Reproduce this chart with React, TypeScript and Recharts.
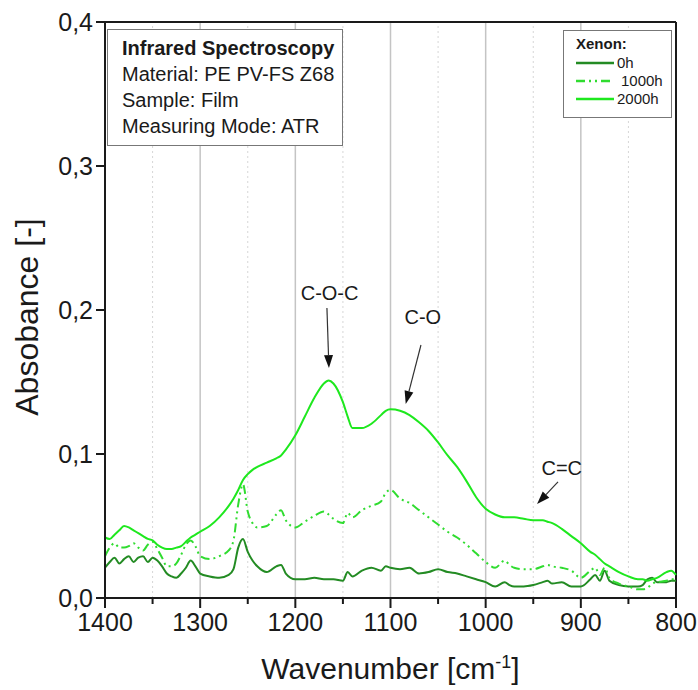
import React from "react";
import {
  LineChart,
  Line,
  XAxis,
  YAxis,
  ReferenceLine,
  ReferenceDot,
} from "recharts";

// wavenumber grid [cm-1]
const wavenumbers = [
  1400, 1395, 1390, 1385, 1380, 1375, 1370, 1365, 1360, 1355, 1350, 1345, 1340,
  1335, 1330, 1325, 1320, 1315, 1310, 1305, 1300, 1290, 1280, 1270, 1265, 1260,
  1255, 1250, 1245, 1240, 1230, 1220, 1215, 1210, 1200, 1190, 1180, 1170, 1165,
  1160, 1150, 1145, 1140, 1130, 1120, 1110, 1105, 1100, 1090, 1080, 1070, 1060,
  1050, 1040, 1030, 1020, 1010, 1000, 990, 980, 975, 970, 960, 950, 940, 935,
  930, 920, 910, 900, 890, 885, 880, 875, 870, 860, 850, 840, 835, 830, 825, 820,
  810, 805, 800,
];

const xenon0h = [
  0.021, 0.025, 0.028, 0.024, 0.027, 0.029, 0.025, 0.028, 0.029, 0.025, 0.028,
  0.026, 0.022, 0.017, 0.015, 0.014, 0.017, 0.021, 0.026, 0.022, 0.017, 0.015,
  0.014, 0.016, 0.02, 0.035, 0.041, 0.032, 0.026, 0.022, 0.018, 0.022, 0.023,
  0.017, 0.013, 0.013, 0.014, 0.013, 0.013, 0.013, 0.012, 0.018, 0.015, 0.019,
  0.021, 0.019, 0.022, 0.021, 0.02, 0.021, 0.017, 0.018, 0.02, 0.018, 0.017,
  0.015, 0.013, 0.011, 0.008, 0.011, 0.009, 0.008, 0.008, 0.009, 0.011, 0.012,
  0.01, 0.011, 0.008, 0.008, 0.013, 0.016, 0.012, 0.019, 0.012, 0.009, 0.008,
  0.008, 0.009, 0.013, 0.014, 0.011, 0.011, 0.012, 0.012,
];

const xenon1000h = [
  0.029, 0.035, 0.038, 0.035, 0.035, 0.036, 0.038, 0.035, 0.033, 0.037, 0.039,
  0.034, 0.028, 0.022, 0.022, 0.024, 0.03, 0.037, 0.04, 0.036, 0.029, 0.027,
  0.029, 0.033, 0.04, 0.065, 0.079, 0.06, 0.052, 0.049, 0.05, 0.058, 0.061,
  0.054, 0.049, 0.053, 0.057, 0.06, 0.058, 0.055, 0.052, 0.059, 0.056, 0.061,
  0.064, 0.067, 0.073, 0.075, 0.069, 0.066, 0.061, 0.056, 0.051, 0.046, 0.042,
  0.037, 0.031, 0.025, 0.021, 0.026, 0.023, 0.021, 0.02, 0.02, 0.022, 0.023,
  0.022, 0.021, 0.019, 0.014, 0.019, 0.021, 0.016, 0.021, 0.014, 0.01, 0.008,
  0.006, 0.006, 0.007, 0.01, 0.011, 0.012, 0.013, 0.013,
];

const xenon2000h = [
  0.042, 0.041, 0.044, 0.047, 0.05, 0.049, 0.047, 0.045, 0.043, 0.041, 0.04,
  0.037, 0.035, 0.034, 0.034, 0.035, 0.036, 0.039, 0.042, 0.044, 0.046, 0.05,
  0.056, 0.064, 0.069, 0.075, 0.082, 0.086, 0.089, 0.091, 0.094, 0.097, 0.099,
  0.103, 0.113, 0.126, 0.139, 0.149, 0.151, 0.149, 0.136, 0.126, 0.118, 0.118,
  0.121, 0.127, 0.13, 0.131, 0.13, 0.127, 0.122, 0.116, 0.108, 0.099, 0.091,
  0.081, 0.07, 0.062, 0.058, 0.056, 0.056, 0.056, 0.055, 0.054, 0.054, 0.053,
  0.052, 0.048, 0.043, 0.038, 0.032, 0.03, 0.027, 0.024, 0.022, 0.018, 0.015,
  0.013, 0.013, 0.012, 0.013, 0.014, 0.018, 0.019, 0.016,
];

const xMajorTicks = [1400, 1300, 1200, 1100, 1000, 900, 800];
const xAllTicks = [1400, 1350, 1300, 1250, 1200, 1150, 1100, 1050, 1000, 950, 900, 850, 800];
const xMajorGrid = [1300, 1200, 1100, 1000, 900];
const xMinorGrid = [1350, 1250, 1150, 1050, 950, 850];
const yTicks = [0, 0.1, 0.2, 0.3, 0.4];

const seriesNames = ["0h", "1000h", "2000h"];
const seriesColors = ["#238b23", "#30dc30", "#1ee81e"];
const seriesDash = ["", "9 4 2 4 2 4", ""];

// peak annotations: label anchor and arrow from -> to (wavenumber, absorbance)
const annotations = [
  { text: "C-O-C", at: [1164, 0.207], from: [1166.8, 0.2014], to: [1164.7, 0.1597] },
  { text: "C-O", at: [1066, 0.19], from: [1068, 0.1757], to: [1084, 0.1347] },
  { text: "C=C", at: [920, 0.0854], from: [924, 0.0806], to: [946, 0.0653] },
];

const data = wavenumbers.map((w, i) => ({
  w,
  s0: xenon0h[i],
  s1: xenon1000h[i],
  s2: xenon2000h[i],
}));

const FONT = "'Liberation Sans', Arial, sans-serif";
const INK = "#1a1a1a";

const XTick = (props: any) => {
  const { x, y, payload } = props;
  const v = payload.value;
  const major = xMajorTicks.includes(v);
  return (
    <g>
      <line x1={x} x2={x} y1={y} y2={y + (major ? 10 : 6)} stroke={INK} strokeWidth={2} />
      {major && (
        <text x={x} y={y + 33} textAnchor="middle" fontSize={25} fill={INK} fontFamily={FONT}>
          {v}
        </text>
      )}
    </g>
  );
};

const Arrow = (props: any) => {
  const { x1, y1, x2, y2 } = props;
  const a = Math.atan2(y2 - y1, x2 - x1);
  const len = 13;
  const hw = 4.5;
  const bx = x2 - len * Math.cos(a);
  const by = y2 - len * Math.sin(a);
  const px = -Math.sin(a) * hw;
  const py = Math.cos(a) * hw;
  return (
    <g>
      <line x1={x1} y1={y1} x2={bx} y2={by} stroke="#333" strokeWidth={1.2} />
      <polygon points={`${x2},${y2} ${bx + px},${by + py} ${bx - px},${by - py}`} fill="#111" />
    </g>
  );
};

export default function App() {
  return (
    <div style={{ position: "absolute", left: 0, top: 0, width: 698, height: 690, background: "#fff", fontFamily: FONT }}>
      <LineChart width={698} height={690} data={data} margin={{ top: 22, right: 22, left: 0, bottom: 0 }}>
        {xMinorGrid.map((g) => (
          <ReferenceLine key={"m" + g} x={g} stroke="#d6d6d6" strokeDasharray="2 3" strokeWidth={1} />
        ))}
        {xMajorGrid.map((g) => (
          <ReferenceLine key={"M" + g} x={g} stroke="#c4c4c4" strokeWidth={1.5} />
        ))}
        <XAxis
          dataKey="w"
          type="number"
          domain={[800, 1400]}
          reversed
          ticks={xAllTicks}
          interval={0}
          tickLine={false}
          tickSize={0}
          tickMargin={0}
          tick={<XTick />}
          axisLine={{ stroke: INK, strokeWidth: 2 }}
          height={92}
          label={{
            content: ({ viewBox }: any) => (
              <text
                x={viewBox.x + viewBox.width / 2}
                y={viewBox.y + 81}
                textAnchor="middle"
                fontSize={30}
                fill={INK}
                fontFamily={FONT}
              >
                Wavenumber [cm
                <tspan dy={-11} fontSize={18}>-1</tspan>
                <tspan dy={11}>]</tspan>
              </text>
            ),
          }}
        />
        <YAxis
          type="number"
          domain={[0, 0.4]}
          ticks={yTicks}
          interval={0}
          width={105}
          tickSize={9}
          tickMargin={3}
          tickLine={{ stroke: INK, strokeWidth: 2 }}
          axisLine={{ stroke: INK, strokeWidth: 2 }}
          tick={{ fontSize: 25, fill: INK, fontFamily: FONT }}
          tickFormatter={(v: number) => v.toFixed(1).replace(".", ",")}
          label={{
            content: ({ viewBox }: any) => {
              const cx = 27;
              const cy = viewBox.y + viewBox.height / 2 + 7;
              return (
                <text
                  x={cx}
                  y={cy}
                  textAnchor="middle"
                  dominantBaseline="central"
                  transform={`rotate(-90 ${cx} ${cy})`}
                  fontSize={32}
                  fill={INK}
                  fontFamily={FONT}
                >
                  Absobance [-]
                </text>
              );
            },
          }}
        />
        <ReferenceLine y={0.4} stroke={INK} strokeWidth={2} />
        <ReferenceLine x={800} stroke={INK} strokeWidth={2} />
        <Line dataKey="s0" name={seriesNames[0]} type="monotone" stroke={seriesColors[0]} strokeWidth={2} dot={false} isAnimationActive={false} />
        <Line dataKey="s1" name={seriesNames[1]} type="monotone" stroke={seriesColors[1]} strokeWidth={2} strokeDasharray={seriesDash[1]} dot={false} isAnimationActive={false} />
        <Line dataKey="s2" name={seriesNames[2]} type="monotone" stroke={seriesColors[2]} strokeWidth={2} dot={false} isAnimationActive={false} />
        {annotations.map((a) => (
          <ReferenceLine
            key={"a" + a.text}
            segment={[
              { x: a.from[0], y: a.from[1] },
              { x: a.to[0], y: a.to[1] },
            ]}
            shape={<Arrow />}
          />
        ))}
        {annotations.map((a) => (
          <ReferenceDot
            key={"t" + a.text}
            x={a.at[0]}
            y={a.at[1]}
            r={0}
            shape={(p: any) => (
              <text x={p.cx} y={p.cy} textAnchor="middle" fontSize={20} fill={INK} fontFamily={FONT}>
                {a.text}
              </text>
            )}
          />
        ))}
      </LineChart>

      {/* sample info box */}
      <div
        style={{
          position: "absolute",
          left: 107,
          top: 29,
          width: 236,
          height: 117,
          boxSizing: "border-box",
          border: "1.5px solid #777",
          background: "#fff",
          padding: "5px 0 0 14px",
          fontSize: 20,
          lineHeight: "26px",
          color: INK,
        }}
      >
        <div style={{ fontWeight: "bold" }}>Infrared Spectroscopy</div>
        <div>Material: PE PV-FS Z68</div>
        <div>Sample: Film</div>
        <div>Measuring Mode: ATR</div>
      </div>

      {/* legend */}
      <div
        style={{
          position: "absolute",
          left: 563,
          top: 30,
          width: 109,
          height: 88,
          boxSizing: "border-box",
          border: "1.5px solid #777",
          background: "#fff",
          padding: "4px 0 0 12px",
          fontSize: 15,
          lineHeight: "18px",
          color: INK,
        }}
      >
        <div style={{ fontWeight: "bold", marginBottom: 1 }}>Xenon:</div>
        {seriesNames.map((n, i) => (
          <div key={n} style={{ display: "flex", alignItems: "center", height: 18 }}>
            <svg width={40} height={10} style={{ marginRight: i === 1 ? 5 : 1 }}>
              <line
                x1={0}
                x2={38}
                y1={5}
                y2={5}
                stroke={seriesColors[i]}
                strokeWidth={2.5}
                strokeDasharray={seriesDash[i] || undefined}
              />
            </svg>
            <span>{n}</span>
          </div>
        ))}
      </div>
    </div>
  );
}
